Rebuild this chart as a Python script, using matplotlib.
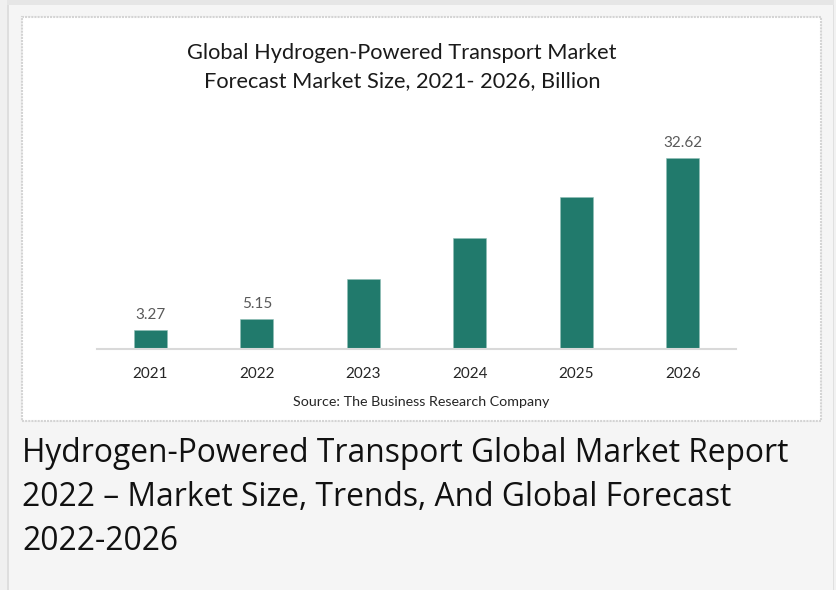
import matplotlib
matplotlib.use("Agg")
import matplotlib.pyplot as plt
from matplotlib.patches import Rectangle

years = ["2021", "2022", "2023", "2024", "2025", "2026"]
values = [3.27, 5.15, 12.0, 19.0, 26.0, 32.62]
value_labels = ["3.27", "5.15", "", "", "", "32.62"]
chart_title = "Global Hydrogen-Powered Transport Market\nForecast Market Size, 2021- 2026, Billion"
source_text = "Source: The Business Research Company"
page_lines = ["Hydrogen-Powered Transport Global Market Report",
              "2022 \u2013 Market Size, Trends, And Global Forecast",
              "2022-2026"]

W, H = 836, 590
fig = plt.figure(figsize=(W / 100, H / 100), dpi=100)
fig.patch.set_facecolor("#f5f5f5")

def rect(x0, y0, x1, y1, **kw):
    # pixel coords, y from top
    r = Rectangle((x0 / W, 1 - y1 / H), (x1 - x0) / W, (y1 - y0) / H,
                  transform=fig.transFigure, zorder=-10, **kw)
    fig.add_artist(r)

# outer frame bits
rect(0, 0, W, 4.5, facecolor="#e6e6e6", edgecolor="none")
rect(0, 0, 7, H, facecolor="#f0f0f0", edgecolor="none")
rect(7, 4.5, 9, H, facecolor="#dedede", edgecolor="none")
rect(832.5, 4.5, 834, H, facecolor="#e0e0e0", edgecolor="none")
rect(834, 0, W, H, facecolor="#f2f2f2", edgecolor="none")
# inner white chart panel
rect(22, 16.5, 821, 421, facecolor="white", edgecolor="#d4d4d4", linewidth=1.5, linestyle=(0, (1, 0.5)))

# bar axes
ax_left, ax_right = 97, 736
base_y = 349.3
ymax = 40
px_per_unit = 5.855
top_y = base_y - ymax * px_per_unit
ax = fig.add_axes([ax_left / W, 1 - base_y / H, (ax_right - ax_left) / W, (base_y - top_y) / H])
ax.set_facecolor("none")
x = range(len(years))
bars = ax.bar(x, values, width=0.314, color="#217a6c", edgecolor="#8fbfb5", linewidth=0.4)
ax.set_xlim(-0.5, len(years) - 0.5)
ax.set_ylim(0, ymax)
for s in ["top", "right", "left"]:
    ax.spines[s].set_visible(False)
ax.spines["bottom"].set_color("#d9d9d9")
ax.spines["bottom"].set_linewidth(1.5)
ax.set_yticks([])
ax.set_xticks(list(x))
ax.set_xticklabels(years, fontfamily="Lato", fontsize=11, color="#262626")
ax.tick_params(axis="x", length=0, pad=12.8)
for xi, v, lab in zip(x, values, value_labels):
    if lab:
        ax.annotate(lab, (xi, v), xytext=(0, 6), textcoords="offset points",
                    ha="center", va="bottom", fontfamily="Lato", fontsize=11, color="#595959")

fig.text(402 / W, 1 - 67 / H, chart_title, ha="center", va="center",
         fontfamily="Lato", fontsize=15.7, color="#1a1a1a", linespacing=1.5)
fig.text(421 / W, 1 - 402 / H, source_text, ha="center", va="center",
         fontfamily="Lato", fontsize=10.3, color="#262626")

baselines = [462, 506, 550]
for line, by in zip(page_lines, baselines):
    fig.text(22 / W, 1 - by / H, line, ha="left", va="baseline",
             fontfamily="Open Sans", fontsize=22.9, color="#111111")

fig.savefig("out.png", dpi=100, facecolor=fig.get_facecolor())
